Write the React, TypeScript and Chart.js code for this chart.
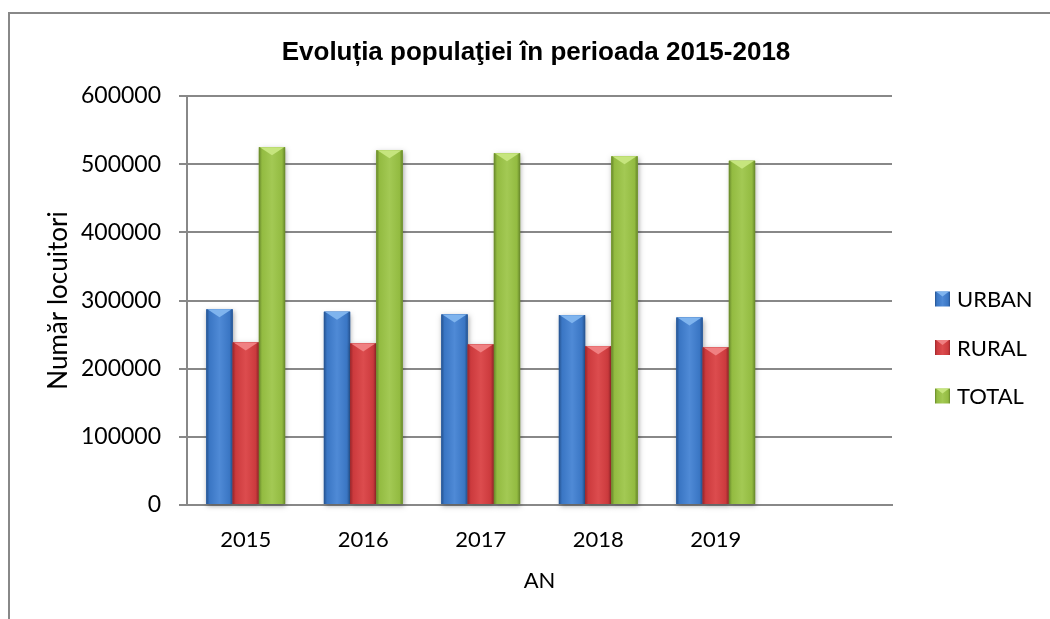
import React, { useEffect, useRef } from 'react';
import { Chart, registerables } from 'chart.js';

Chart.register(...registerables);

const chartTitle = 'Evoluția populaţiei în perioada 2015-2018';
const xAxisTitle = 'AN';
const yAxisTitle = 'Număr locuitori';
const categories = ['2015', '2016', '2017', '2018', '2019', ''];
const seriesNames = ['URBAN', 'RURAL', 'TOTAL'];
const urbanValues = [287000, 283500, 279500, 278500, 275000, null];
const ruralValues = [238500, 237000, 235500, 232800, 231200, null];
const totalValues = [524800, 520400, 515900, 511500, 505000, null];
const yMin = 0;
const yMax = 600000;
const yStep = 100000;

const palette = [
  { edge: '#25528e', mid: '#3a76c4', light: '#4f8ad6', top: '#7fb4ee' },
  { edge: '#98262a', mid: '#cc3a3d', light: '#dc4c4e', top: '#f08082' },
  { edge: '#66862a', mid: '#93bb41', light: '#a3c954', top: '#c6e57e' },
];

const GRID = '#888888';

function drawBevelRect(ctx: CanvasRenderingContext2D, l: number, t: number, w: number, h: number, s: any, tri: number) {
  const r = l + w;
  const g = ctx.createLinearGradient(l, 0, r, 0);
  g.addColorStop(0, s.edge);
  g.addColorStop(0.12, s.mid);
  g.addColorStop(0.5, s.light);
  g.addColorStop(0.88, s.mid);
  g.addColorStop(1, s.edge);
  ctx.fillStyle = g;
  ctx.fillRect(l, t, w, h);
  const d = Math.min(tri, h / 2);
  ctx.fillStyle = s.top;
  ctx.beginPath();
  ctx.moveTo(l + 1, t);
  ctx.lineTo(r - 1, t);
  ctx.lineTo(l + w / 2, t + d);
  ctx.closePath();
  ctx.fill();
}

const decorPlugin = {
  id: 'decor',
  beforeDraw(chart: any) {
    const ctx = chart.ctx as CanvasRenderingContext2D;
    ctx.save();
    ctx.fillStyle = '#ffffff';
    ctx.fillRect(0, 0, chart.width, chart.height);
    ctx.strokeStyle = GRID;
    ctx.lineWidth = 2;
    ctx.beginPath();
    ctx.moveTo(9, chart.height + 2);
    ctx.lineTo(9, 13);
    ctx.lineTo(chart.width + 2, 13);
    ctx.stroke();
    ctx.restore();
  },
  afterDatasetsDraw(chart: any) {
    const ctx = chart.ctx as CanvasRenderingContext2D;
    ctx.save();
    chart.data.datasets.forEach((ds: any, di: number) => {
      const meta = chart.getDatasetMeta(di);
      const s = palette[di];
      meta.data.forEach((el: any, i: number) => {
        if (ds.data[i] == null) return;
        const { x, y, base, width } = el.getProps(['x', 'y', 'base', 'width'], true);
        const l = x - width / 2;
        ctx.save();
        ctx.shadowColor = 'rgba(0,0,0,0.35)';
        ctx.shadowBlur = 5;
        ctx.shadowOffsetX = 1;
        ctx.shadowOffsetY = 2;
        ctx.fillStyle = s.mid;
        ctx.fillRect(l, y, width, base - y);
        ctx.restore();
        drawBevelRect(ctx, l, y, width, base - y, s, 8);
      });
    });
    // legend
    ctx.font = '22px Lato';
    ctx.textBaseline = 'middle';
    ctx.textAlign = 'left';
    const ys = [299, 347.5, 396];
    chart.data.datasets.forEach((ds: any, di: number) => {
      const cy = ys[di];
      drawBevelRect(ctx, 935, cy - 7.5, 15, 15, palette[di], 5);
      ctx.fillStyle = '#000000';
      ctx.fillText(ds.label, 957, cy + 1);
    });
    // title
    ctx.font = 'bold 26px "Liberation Sans"';
    ctx.textAlign = 'center';
    ctx.fillStyle = '#000000';
    ctx.fillText(chartTitle, 536, 53);
    ctx.restore();
  },
};

export default function App() {
  const ref = useRef<HTMLCanvasElement | null>(null);
  useEffect(() => {
    if (!ref.current) return;
    const seriesValues = [urbanValues, ruralValues, totalValues];
    const chart = new Chart(ref.current, {
      type: 'bar',
      data: {
        labels: categories,
        datasets: seriesNames.map((name, i) => ({
          label: name,
          data: seriesValues[i],
          backgroundColor: palette[i].mid,
          borderWidth: 0,
          categoryPercentage: 0.67,
          barPercentage: 1.0,
        })),
      },
      options: {
        animation: false,
        responsive: false,
        devicePixelRatio: 1,
        layout: { padding: { top: 96, right: 158, left: 0, bottom: 0 } },
        plugins: {
          legend: { display: false },
          title: { display: false },
          tooltip: { enabled: false },
        },
        scales: {
          x: {
            grid: { display: false, drawTicks: false },
            border: { display: true, color: GRID, width: 2 },
            ticks: {
              color: '#000',
              font: { family: 'Lato', size: 22 },
              padding: 22,
              maxRotation: 0,
              autoSkip: false,
            },
            title: {
              display: true,
              text: xAxisTitle,
              color: '#000',
              font: { family: 'Lato', size: 22 },
              padding: { top: 0, bottom: 25 },
            },
            afterFit: (scale: any) => {
              scale.height = 114;
            },
          },
          y: {
            min: yMin,
            max: yMax,
            grid: { color: GRID, lineWidth: 2, drawTicks: true, tickLength: 8, tickColor: GRID, tickWidth: 2 },
            border: { display: true, color: GRID, width: 2 },
            ticks: {
              stepSize: yStep,
              color: '#000',
              font: { family: 'Lato', size: 23 },
              padding: 18,
              callback: (v: any) => String(v),
            },
            title: {
              display: true,
              text: yAxisTitle,
              color: '#000',
              font: { family: 'Lato', size: 26 },
              padding: { top: 43, bottom: 0 },
            },
            afterFit: (scale: any) => {
              scale.width = 187;
            },
          },
        },
      },
      plugins: [decorPlugin],
    });
    return () => chart.destroy();
  }, []);
  return (
    <div style={{ position: 'absolute', left: 0, top: 0, width: 1050, height: 619 }}>
      <canvas ref={ref} width={1050} height={619} />
    </div>
  );
}
